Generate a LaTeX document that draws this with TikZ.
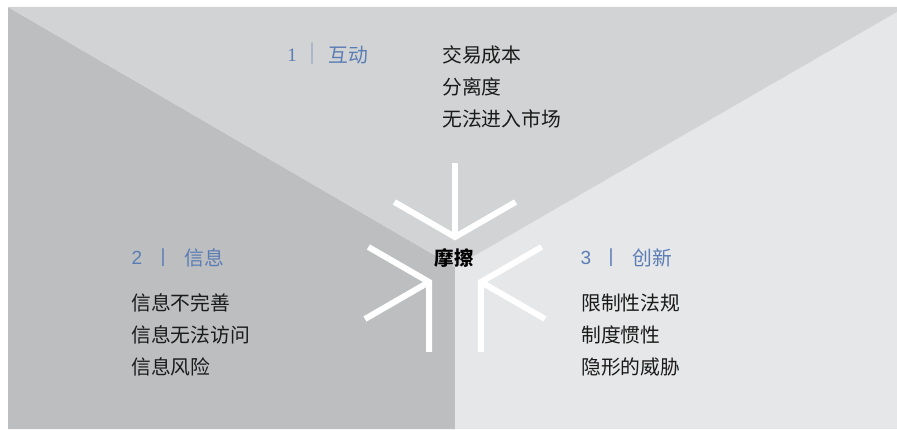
\documentclass[tikz,border=0pt]{standalone}
\usepackage{fontspec}
\newfontfamily\cjk{Noto Sans CJK SC}
\newfontfamily\numsans{Liberation Sans}
\newfontfamily\numserif{Liberation Serif}
\definecolor{gtop}{HTML}{D1D3D4}
\definecolor{gleft}{HTML}{BCBEC0}
\definecolor{gright}{HTML}{E6E7E8}
\definecolor{lblue}{HTML}{5B7DB5}
\definecolor{lbar}{HTML}{A9B6CC}
\definecolor{txt}{HTML}{1A1A1A}
\tikzset{
  item/.style={anchor=west, inner sep=0pt, text=txt, font=\cjk\fontsize{19.8}{21}\selectfont},
  head/.style={inner sep=0pt, text=lblue, font=\cjk\fontsize{19.8}{21}\selectfont},
  headw/.style={head, anchor=west},
  star/.style={draw=white, line width=6pt, line cap=butt, line join=miter}
}
\begin{document}
\begin{tikzpicture}[x=1pt,y=1pt]
\useasboundingbox (0,0) rectangle (897,429);
% regions
\fill[gleft] (8,0) -- (8,422) -- (455,162) -- (455,0) -- cycle;
\fill[gright] (455,0) -- (455,162) -- (897,417) -- (897,0) -- cycle;
\fill[gtop] (8,422) -- (897,422) -- (897,417) -- (455,162) -- cycle;
% star arrows
\foreach \r in {0,120,240}{
  \begin{scope}[shift={(455,162)}, rotate=\r]
    \draw[star] (-60.62,65) -- (0,30) -- (60.62,65);
    \draw[star] (0,30) -- (0,104);
  \end{scope}
}
\node[inner sep=0pt, text=black, font=\cjk\bfseries\fontsize{19.5}{20}\selectfont] (c) at (454,171) {摩擦};
% group 1
\node[head, font=\numserif\fontsize{19}{20}\selectfont] (n1) at (292,374) {1};
\node[inner sep=0pt, text=lbar, font=\numsans\fontsize{23}{23}\selectfont] (b1) at (312,375) {|};
\node[headw] (h1) at (328,374) {互动};
\node[item] (a1) at (442,374) {交易成本};
\node[item] (a2) at (442,342) {分离度};
\node[item] (a3) at (442,310) {无法进入市场};
% group 2
\node[head, font=\numsans\fontsize{19}{20}\selectfont] (n2) at (137,171) {2};
\node[head, font=\numsans\fontsize{19}{20}\selectfont] (b2) at (163,171) {|};
\node[headw] (h2) at (184,171) {信息};
\node[item] (l1) at (131,126) {信息不完善};
\node[item] (l2) at (131,94) {信息无法访问};
\node[item] (l3) at (131,62) {信息风险};
% group 3
\node[head, font=\numsans\fontsize{19}{20}\selectfont] (n3) at (586,171) {3};
\node[head, font=\numsans\fontsize{19}{20}\selectfont] (b3) at (611,171) {|};
\node[headw] (h3) at (632,171) {创新};
\node[item] (r1) at (581,126) {限制性法规};
\node[item] (r2) at (581,94) {制度惯性};
\node[item] (r3) at (581,62) {隐形的威胁};
\end{tikzpicture}
\end{document}
